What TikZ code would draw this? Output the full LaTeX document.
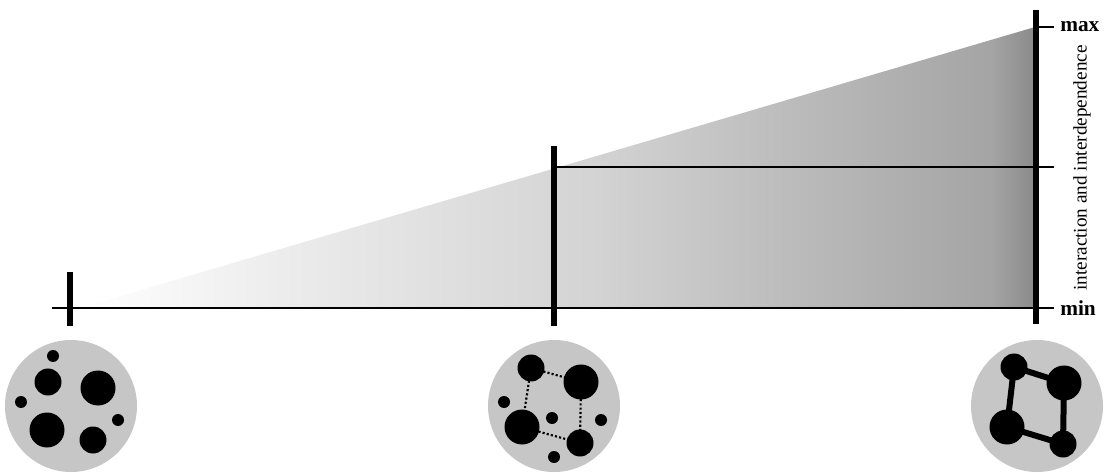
\documentclass[tikz,border=0pt]{standalone}
\usepackage{fontspec}
\setmainfont{Liberation Serif}
\definecolor{discgray}{HTML}{C6C6C6}
\pgfdeclarehorizontalshading{rampshade}{100bp}{%
  color(0bp)=(white); color(25bp)=(white); color(35.7bp)=(black!7.5); color(51.8bp)=(black!17); color(63.3bp)=(black!27.5); color(72.7bp)=(black!35.5); color(75bp)=(black!46); color(100bp)=(black!46)}
\tikzset{
  thinaxis/.style={line width=2.2pt, black},
  thickbar/.style={line width=5pt, black},
  disc/.style={circle, fill=discgray, draw=none, minimum size=132*0.75pt, inner sep=0pt},
  bigdot/.style={circle, fill=black, draw=none, minimum size=35*0.75pt, inner sep=0pt},
  middot/.style={circle, fill=black, draw=none, minimum size=27*0.75pt, inner sep=0pt},
  smalldot/.style={circle, fill=black, draw=none, minimum size=12*0.75pt, inner sep=0pt},
  weaklink/.style={line width=1.6pt, dash pattern=on 1.6pt off 1.6pt, black},
  stronglink/.style={line width=4.5pt, black},
  ticklabel/.style={font=\fontsize{16}{18}\selectfont\bfseries, anchor=west, inner sep=0pt}
}
\begin{document}
\begin{tikzpicture}[x=0.75pt,y=-0.75pt]
\useasboundingbox (0,0) rectangle (1112,473);
% gradient wedge
\shade[shading=rampshade] (80,308) -- (1035,27) -- (1035,308) -- cycle;
% coordinates
\coordinate (bl) at (52,308);
\coordinate (br) at (1054,308);
\coordinate (ltop) at (70,272);
\coordinate (lbot) at (70,326);
\coordinate (mtop) at (554,146);
\coordinate (mbot) at (554,326);
\coordinate (hl) at (554,167);
\coordinate (hr) at (1054,167);
\coordinate (rtop) at (1036,10);
\coordinate (rbot) at (1036,324);
\coordinate (maxl) at (1036,27);
\coordinate (maxr) at (1054,27);
% axes
\draw[thinaxis] (bl) -- (br);
\draw[thinaxis] (hl) -- (hr);
\draw[thinaxis] (maxl) -- (maxr);
\draw[thickbar] (ltop) -- (lbot);
\draw[thickbar] (mtop) -- (mbot);
\draw[thickbar] (rtop) -- (rbot);
\node[ticklabel] (maxlab) at (1060,27) {max};
\node[ticklabel] (minlab) at (1060,308) {min};
\node[rotate=90, font=\fontsize{14.4}{16}\selectfont, inner sep=0pt] (ylab) at (1082,168) {interaction and interdependence};
% disc 1
\node[disc] (d1) at (71,406) {};
\node[smalldot] (a1) at (53,356) {};
\node[middot] (a2) at (48,382) {};
\node[bigdot] (a3) at (98,388) {};
\node[smalldot] (a4) at (21,402) {};
\node[bigdot] (a5) at (47,430) {};
\node[middot] (a6) at (93,440) {};
\node[smalldot] (a7) at (118,420) {};
% disc 2
\node[disc] (d2) at (554,406) {};
\draw[weaklink] (531,368) coordinate (bA) -- (581,382) coordinate (bB);
\draw[weaklink] (bA) -- (522,427) coordinate (bC);
\draw[weaklink] (bB) -- (580,443) coordinate (bD);
\draw[weaklink] (bC) -- (bD);
\node[middot] (b1) at (bA) {};
\node[bigdot] (b2) at (bB) {};
\node[bigdot] (b3) at (bC) {};
\node[middot] (b4) at (bD) {};
\node[smalldot] (b5) at (504,402) {};
\node[smalldot] (b6) at (552,418) {};
\node[smalldot] (b7) at (601,420) {};
\node[smalldot] (b8) at (554,457) {};
% disc 3
\node[disc] (d3) at (1037,406) {};
\node[middot] (c1) at (1014,367) {};
\node[bigdot] (c2) at (1064,383) {};
\node[bigdot] (c3) at (1007,427) {};
\node[middot] (c4) at (1063,444) {};
\draw[stronglink] (c1.center) -- (c2.center);
\draw[stronglink] (c1.center) -- (c3.center);
\draw[stronglink] (c2.center) -- (c4.center);
\draw[stronglink] (c3.center) -- (c4.center);
\end{tikzpicture}
\end{document}
